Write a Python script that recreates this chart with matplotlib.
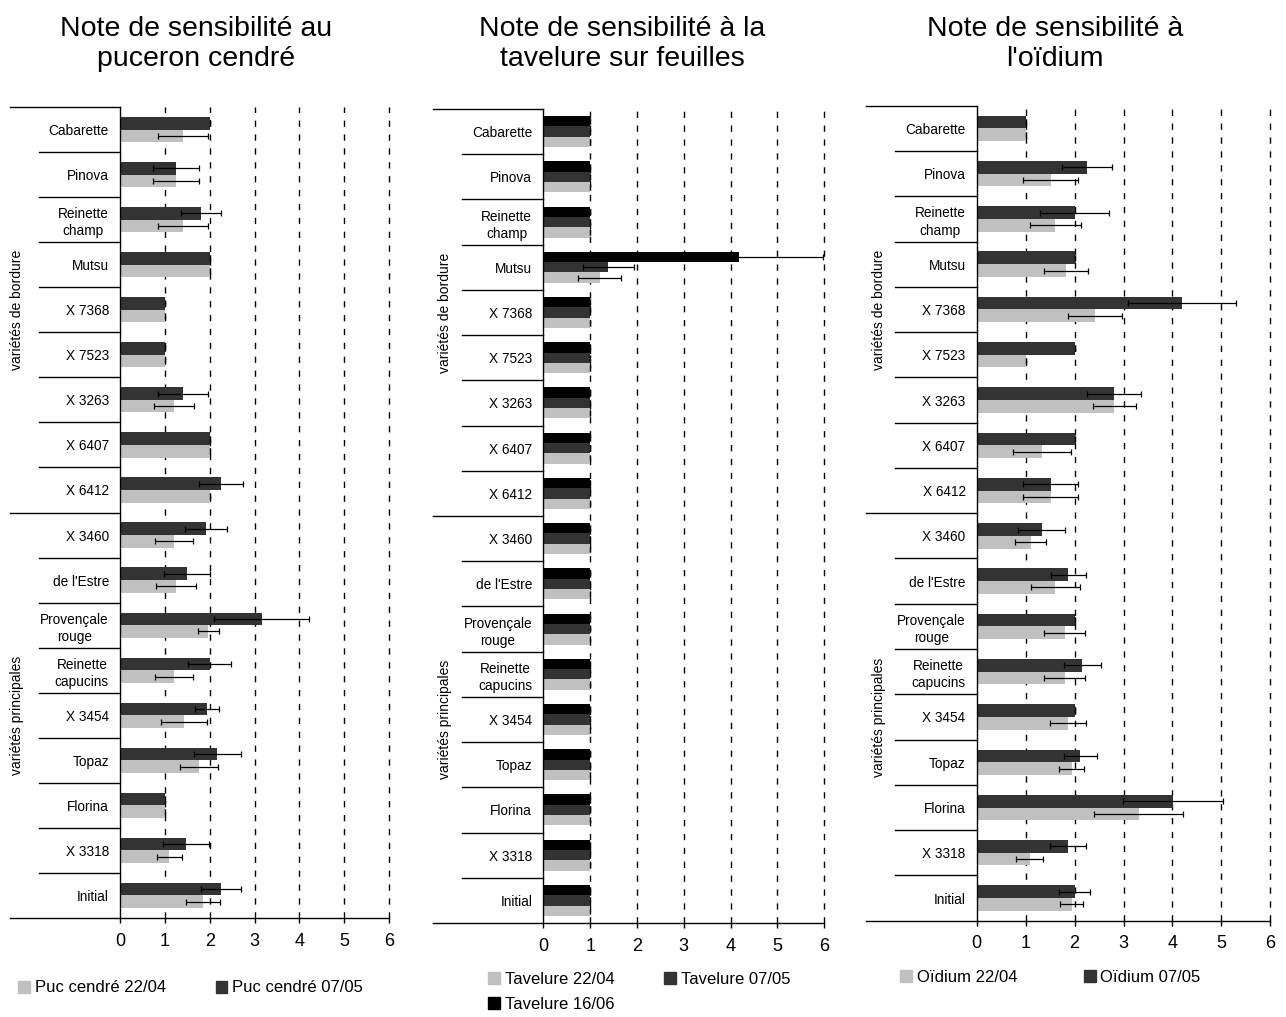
import matplotlib
matplotlib.use("Agg")
import matplotlib.pyplot as plt
import numpy as np
from matplotlib.patches import Patch

plt.rcParams["font.family"] = ["Liberation Sans", "DejaVu Sans"]

# ─── Données ──────────────────────────────────────────────────────────────────
VARIETES = ["Cabarette", "Pinova", "Reinette\nchamp", "Mutsu", "X 7368",
            "X 7523", "X 3263", "X 6407", "X 6412", "X 3460", "de l'Estre",
            "Provençale\nrouge", "Reinette\ncapucins", "X 3454", "Topaz",
            "Florina", "X 3318", "Initial"]
GROUPES = ["variétés de bordure", "variétés principales"]

puc_2204     = [1.40, 1.25, 1.41, 2.00, 1.00, 1.00, 1.21, 2.00, 2.00,
                1.21, 1.25, 1.97, 1.21, 1.43, 1.76, 1.00, 1.10, 1.85]
puc_2204_err = [0.56, 0.51, 0.56, 0.00, 0.00, 0.00, 0.45, 0.00, 0.00,
                0.42, 0.44, 0.23, 0.42, 0.51, 0.43, 0.00, 0.28, 0.37]
puc_0705     = [2.00, 1.25, 1.81, 2.00, 1.00, 1.00, 1.41, 2.00, 2.25,
                1.92, 1.50, 3.16, 2.00, 1.94, 2.17, 1.00, 1.47, 2.25]
puc_0705_err = [0.00, 0.51, 0.44, 0.00, 0.00, 0.00, 0.56, 0.00, 0.49,
                0.46, 0.51, 1.06, 0.48, 0.26, 0.53, 0.00, 0.52, 0.45]

tav_2204     = [1.00, 1.00, 1.00, 1.20, 1.00, 1.00, 1.00, 1.00, 1.00,
                1.00, 1.00, 1.00, 1.00, 1.00, 1.00, 1.00, 1.00, 1.00]
tav_2204_err = [0.00, 0.00, 0.00, 0.45, 0.00, 0.00, 0.00, 0.00, 0.00,
                0.00, 0.00, 0.00, 0.00, 0.00, 0.00, 0.00, 0.00, 0.00]
tav_0705     = [1.00, 1.00, 1.00, 1.39, 1.00, 1.00, 1.00, 1.00, 1.00,
                1.00, 1.00, 1.00, 1.00, 1.00, 1.00, 1.00, 1.00, 1.00]
tav_0705_err = [0.00, 0.00, 0.00, 0.55, 0.00, 0.00, 0.00, 0.00, 0.00,
                0.00, 0.00, 0.00, 0.00, 0.00, 0.00, 0.00, 0.00, 0.00]
tav_1606     = [1.00, 1.00, 1.00, 4.17, 1.00, 1.00, 1.00, 1.00, 1.00,
                1.00, 1.00, 1.00, 1.00, 1.00, 1.00, 1.00, 1.00, 1.00]
tav_1606_err = [0.00, 0.00, 0.00, 1.80, 0.00, 0.00, 0.00, 0.00, 0.00,
                0.00, 0.00, 0.00, 0.00, 0.00, 0.00, 0.00, 0.00, 0.00]

oid_2204     = [1.00, 1.51, 1.61, 1.82, 2.41, 1.00, 2.81, 1.33, 1.51,
                1.10, 1.61, 1.80, 1.80, 1.87, 1.94, 3.31, 1.08, 1.94]
oid_2204_err = [0.00, 0.57, 0.53, 0.45, 0.55, 0.00, 0.44, 0.59, 0.57,
                0.31, 0.50, 0.42, 0.42, 0.37, 0.25, 0.91, 0.28, 0.23]
oid_0705     = [1.00, 2.25, 2.00, 2.00, 4.20, 2.00, 2.81, 2.00, 1.51,
                1.33, 1.87, 2.00, 2.16, 2.00, 2.12, 4.01, 1.87, 2.00]
oid_0705_err = [0.00, 0.51, 0.70, 0.00, 1.10, 0.00, 0.55, 0.00, 0.57,
                0.48, 0.36, 0.00, 0.38, 0.00, 0.33, 1.02, 0.37, 0.32]

GRIS  = "#C0C0C0"
FONCE = "#333333"
NOIR  = "#000000"

W, H = 1286, 1017
fig = plt.figure(figsize=(W / 100, H / 100), dpi=100)


def panneau(rect_px, series, outer, inner, grp_x):
    """rect_px = (left, top, right, bottom) en pixels; series du haut vers le bas."""
    l, t, r, b = rect_px
    ax = fig.add_axes([l / W, 1 - b / H, (r - l) / W, (b - t) / H])
    y = np.arange(len(VARIETES))
    n = len(series)
    h = 0.28 if n == 2 else 0.228
    for i, (vals, err, col, lab) in enumerate(series):
        pos = y + (i - (n - 1) / 2) * h
        ax.barh(pos, vals, height=h, color=col, label=lab, zorder=2)
        ax.errorbar(vals, pos, xerr=err, fmt="none", ecolor="black",
                    elinewidth=0.9, capsize=2, capthick=0.9, zorder=3)
    ax.set_xlim(0, 6)
    ax.set_ylim(len(VARIETES) - 0.5, -0.5)
    ax.set_xticks(range(7))
    ax.set_yticks(y)
    ax.set_yticklabels(VARIETES, fontsize=9.8, linespacing=1.3)
    for lbl in ax.get_yticklabels():
        lbl.set_multialignment("center")
    ax.tick_params(axis="y", length=0, pad=8)
    ax.tick_params(axis="x", length=3.5, width=1, labelsize=13, pad=7)
    ax.spines[["top", "right"]].set_visible(False)
    for s in ["left", "bottom"]:
        ax.spines[s].set_linewidth(1)
    ax.set_axisbelow(True)
    for xv in range(1, 7):
        ax.axvline(xv, color="black", lw=1, ls=(0, (4.5, 5.5)), zorder=0.5,
                   clip_on=False)

    # cadre des étiquettes
    tr = ax.get_yaxis_transform()
    for k in range(len(VARIETES) + 1):
        x0 = -outer if k in (0, 9, 18) else -inner
        ax.plot([x0, 0], [k - 0.5, k - 0.5], color="black", lw=1,
                transform=tr, clip_on=False)
    for g, yc in zip(GROUPES, [4, 13]):
        ax.text(grp_x, yc, g, rotation=90, ha="center", va="center",
                fontsize=10, transform=tr)
    return ax


# ─── Panneau 1 : puceron cendré ───────────────────────────────────────────────
ax1 = panneau((120, 107, 389, 918),
              [(puc_0705, puc_0705_err, FONCE, "Puc cendré 07/05"),
               (puc_2204, puc_2204_err, GRIS, "Puc cendré 22/04")],
              outer=0.409, inner=0.301, grp_x=-0.383)

# ─── Panneau 2 : tavelure ─────────────────────────────────────────────────────
ax2 = panneau((543.3, 109, 824.3, 923),
              [(tav_1606, tav_1606_err, NOIR, "Tavelure 16/06"),
               (tav_0705, tav_0705_err, FONCE, "Tavelure 07/05"),
               (tav_2204, tav_2204_err, GRIS, "Tavelure 22/04")],
              outer=0.391, inner=0.288, grp_x=-0.35)

# ─── Panneau 3 : oïdium ───────────────────────────────────────────────────────
ax3 = panneau((976.7, 105.7, 1270.3, 920.7),
              [(oid_0705, oid_0705_err, FONCE, "Oïdium 07/05"),
               (oid_2204, oid_2204_err, GRIS, "Oïdium 22/04")],
              outer=0.377, inner=0.278, grp_x=-0.333)

# ─── Titres ───────────────────────────────────────────────────────────────────
titres = [(196, "Note de sensibilité au\npuceron cendré"),
          (622, "Note de sensibilité à la\ntavelure sur feuilles"),
          (1055, "Note de sensibilité à\nl'oïdium")]
for xc, txt in titres:
    fig.text(xc / W, 1 - 44 / H, txt, ha="center", va="center",
             fontsize=20.5, linespacing=1.2)

# ─── Légendes ─────────────────────────────────────────────────────────────────
def legende(handles, x_px, y_px, colsp):
    fig.legend(handles=handles, loc="center left",
               bbox_to_anchor=(x_px / W, 1 - y_px / H), ncol=2,
               frameon=False, fontsize=12, handlelength=0.7,
               handleheight=0.7, handletextpad=0.3, columnspacing=colsp,
               borderpad=0, borderaxespad=0, labelspacing=0.6)

legende([Patch(color=GRIS, label="Puc cendré 22/04"),
         Patch(color=FONCE, label="Puc cendré 07/05")], 18, 988, 3.0)
legende([Patch(color=GRIS, label="Tavelure 22/04"),
         Patch(color=NOIR, label="Tavelure 16/06"),
         Patch(color=FONCE, label="Tavelure 07/05")], 488, 992, 3.0)
legende([Patch(color=GRIS, label="Oïdium 22/04"),
         Patch(color=FONCE, label="Oïdium 07/05")], 900, 977, 4.0)

fig.savefig("out.png", dpi=100)
plt.close(fig)
